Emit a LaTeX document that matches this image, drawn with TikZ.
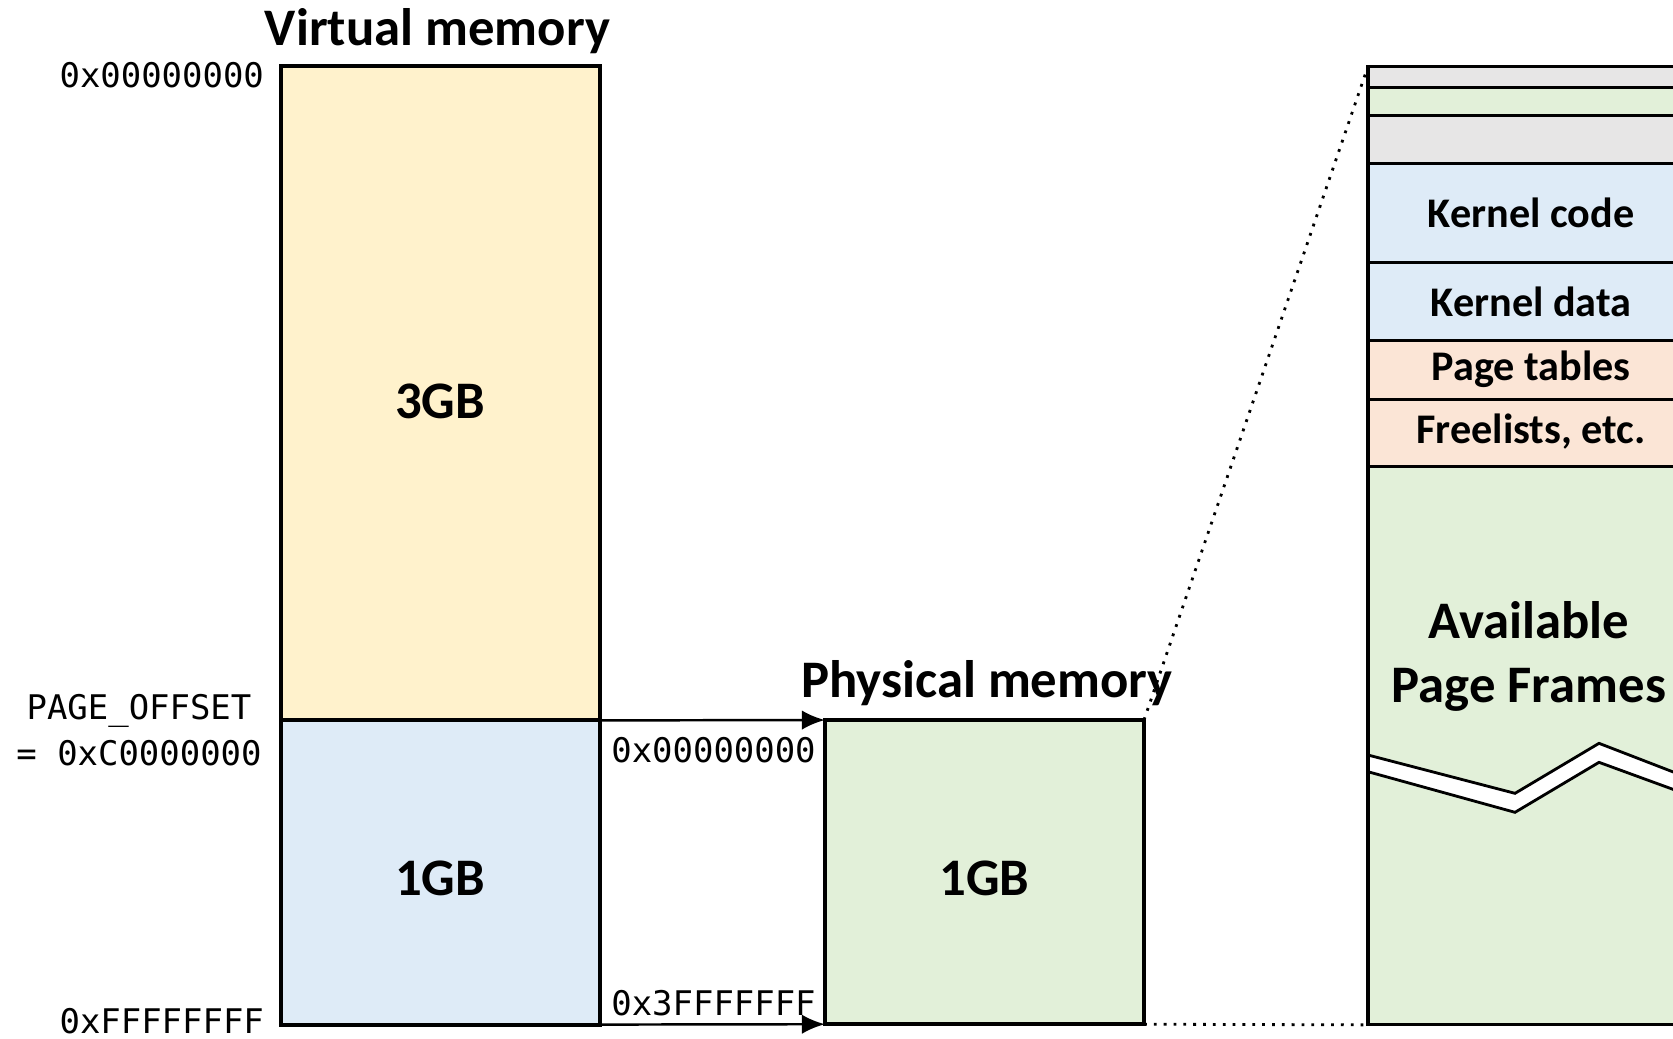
\documentclass[tikz,border=0pt]{standalone}
\usepackage{fontspec}
\setmainfont{Carlito}
\newfontfamily\addrfont{DejaVu Sans Mono}
\usetikzlibrary{arrows.meta,positioning}

\definecolor{userfill}{HTML}{FFF2CC}
\definecolor{kernfill}{HTML}{DEEBF7}
\definecolor{physfill}{HTML}{E2F0D9}
\definecolor{metafill}{HTML}{FBE5D6}
\definecolor{resvfill}{HTML}{E7E6E6}

\tikzset{
  membox/.style={draw, line width=1.1pt, outer sep=0pt, inner sep=0pt, anchor=north west},
  boxtext/.style={font=\bfseries\fontsize{15}{18}\selectfont},
  slot/.style={draw, line width=0.9pt, outer sep=0pt, inner sep=0pt, anchor=north west,
    minimum width=3.26cm, font=\bfseries\fontsize{12}{14}\selectfont},
  addr/.style={font=\addrfont\fontsize{9.65}{13.1}\selectfont, inner sep=0pt},
  title/.style={font=\bfseries\fontsize{15}{18.2}\selectfont},
  map/.style={-{Latex[length=6.5pt,width=5.5pt]}, line width=0.7pt},
  zoomline/.style={dotted, line width=0.8pt}
}

\begin{document}
\begin{tikzpicture}[x=0.01cm, y=-0.01cm]
    \useasboundingbox (0,0) rectangle (1673,1038);
    \clip (0,0) rectangle (1673,1038);

    % virtual and physical address spaces
    \node[membox, fill=userfill, minimum width=3.19cm, minimum height=6.54cm] (user) at (280.6,66) {};
    \node[membox, fill=kernfill, minimum width=3.19cm, minimum height=3.04cm] (kern) at (user.south west) {};
    \node[membox, fill=physfill, minimum width=3.19cm, minimum height=3.04cm] (phys) at (824.8,720) {};
    \node[boxtext] (usertxt) at ([yshift=-0.08cm]user.center) {3GB};
    \node[boxtext] (kerntxt) at ([yshift=-0.06cm]kern.center) {1GB};
    \node[boxtext] (phystxt) at ([yshift=-0.06cm]phys.center) {1GB};

    % zoomed physical memory
    \node[slot, fill=resvfill, minimum height=0.213cm] (r1) at (1368,66.2) {};
    \node[slot, fill=physfill, minimum height=0.277cm] (r2) at (r1.south west) {};
    \node[slot, fill=resvfill, minimum height=0.481cm] (r3) at (r2.south west) {};
    \node[slot, fill=kernfill, minimum height=0.992cm] (kcode) at (r3.south west) {Kernel code};
    \node[slot, fill=kernfill, minimum height=0.779cm] (kdata) at (kcode.south west) {Kernel data};
    \node[slot, fill=metafill, minimum height=0.587cm] (ptab) at (kdata.south west) {\raisebox{0pt}[8.6pt][2.8pt]{Page tables}};
    \node[slot, fill=metafill, minimum height=0.672cm] (flist) at (ptab.south west) {\raisebox{0pt}[8.6pt][2.8pt]{Freelists, etc.}};
    \node[slot, fill=physfill, minimum height=5.58cm] (avail) at (flist.south west) {};
    \node[title, align=center] (availtxt) at (1529,656) {Available\\Page Frames};

    % break mark
    \fill[white] (1368,755) -- (1515,793.3) -- (1599,743.3) -- (1694,780)
        -- (1694,797) -- (1599,762.3) -- (1515,812.3) -- (1368,771.7) -- cycle;
    \draw[line width=0.8pt] (1368,755) -- (1515,793.3) -- (1599,743.3) -- (1694,780);
    \draw[line width=0.8pt] (1368,771.7) -- (1515,812.3) -- (1599,762.3) -- (1694,797);
    \draw[line width=1.3pt] (r1.north west) -- (avail.south west);

    % mapping and zoom lines
    \draw[map] (kern.north east) -- (phys.north west);
    \draw[map] (kern.south east) -- (phys.south west);
    \draw[zoomline] (phys.north east) -- (r1.north west);
    \draw[zoomline] (phys.south east) -- (avail.south west);

    \node[title] (vtitle) at (437.5,31.5) {Virtual memory};
    \node[title] (ptitle) at (987,683) {Physical memory};

    \node[addr, anchor=east] (vlow) at (264.6,74.7) {0x00000000};
    \node[addr, align=center] (poff) at (139,730) {PAGE\_OFFSET\\= 0xC0000000};
    \node[addr, anchor=east] (vhigh) at (264.6,1021) {0xFFFFFFFF};
    \node[addr] (plow) at (713.5,750) {0x00000000};
    \node[addr] (phigh) at (713.5,1003) {0x3FFFFFFF};
\end{tikzpicture}
\end{document}
